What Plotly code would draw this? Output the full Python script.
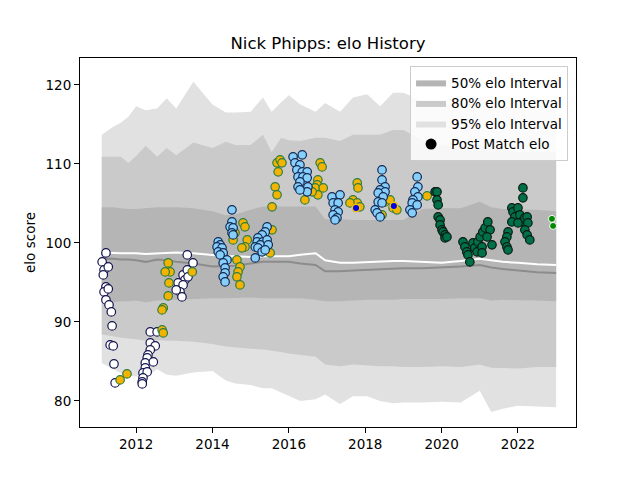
import plotly.graph_objects as go

# ---- dados (anos decimais / pontos elo) ----
band_years = [2011.10, 2011.40, 2011.60, 2011.80, 2012.00, 2012.25, 2012.55, 2012.80, 2013.05,
              2013.50, 2014.00, 2014.35, 2014.60, 2015.00, 2015.32, 2015.55, 2015.80, 2016.00,
              2016.30, 2016.70, 2016.95, 2017.34, 2017.68, 2018.05, 2018.39, 2018.73, 2019.00,
              2019.50, 2020.00, 2020.50, 2021.00, 2021.30, 2021.60, 2022.00, 2022.50, 2023.00]
hi95 = [113.7, 114.7, 115.2, 116.0, 117.3, 116.8, 117.0, 118.3, 117.0,
        120.4, 117.5, 116.5, 116.5, 116.6, 118.4, 116.6, 117.8, 118.7,
        117.5, 116.6, 117.7, 116.6, 118.4, 118.8, 117.3, 119.0, 119.0,
        118.0, 117.5, 117.5, 118.5, 117.8, 117.5, 117.0, 117.5, 117.2]
hi80 = [110.9, 110.9, 110.9, 110.1, 111.0, 112.3, 110.9, 112.0, 111.1,
        112.7, 112.0, 112.8, 112.4, 112.4, 113.7, 111.5, 113.3, 113.0,
        112.9, 113.3, 113.3, 112.9, 113.7, 113.7, 113.7, 114.3, 114.3,
        113.0, 112.5, 112.0, 112.5, 112.0, 111.8, 111.5, 111.5, 111.5]
hi50 = [104.5, 104.5, 104.4, 104.3, 104.3, 104.4, 104.5, 104.5, 104.5,
        104.4, 104.0, 103.5, 103.6, 104.2, 104.6, 104.6, 104.6, 104.6,
        104.6, 104.6, 103.0, 103.0, 102.9, 102.9, 102.9, 102.9, 102.9,
        104.3, 104.4, 104.4, 105.2, 104.5, 104.3, 104.2, 104.2, 104.0]
lo50 = [92.5, 92.5, 92.6, 92.6, 92.7, 92.5, 92.7, 92.8, 92.8,
        92.9, 93.0, 93.0, 93.0, 93.1, 93.0, 93.0, 93.0, 93.0,
        93.0, 92.8, 92.6, 92.6, 92.7, 92.8, 92.8, 92.8, 92.9,
        92.9, 92.9, 93.0, 93.0, 92.7, 92.8, 92.8, 92.7, 92.6]
lo80 = [88.4, 88.2, 88.0, 87.9, 87.8, 87.6, 87.7, 87.6, 87.6,
        87.5, 87.2, 86.9, 86.8, 86.6, 86.5, 86.4, 86.2, 86.0,
        85.8, 85.6, 84.6, 84.4, 84.6, 84.5, 84.4, 84.4, 84.3,
        84.3, 84.4, 84.3, 84.6, 84.2, 84.2, 84.1, 84.3, 84.3]
lo95 = [84.8, 84.0, 83.5, 83.2, 83.1, 83.0, 84.0, 83.3, 83.2,
        83.6, 83.8, 82.6, 82.2, 82.0, 81.6, 81.6, 81.0, 80.6,
        80.0, 80.2, 80.8, 79.6, 80.6, 80.6, 80.0, 79.7, 79.8,
        79.8, 79.9, 79.8, 81.3, 78.6, 79.0, 79.4, 79.3, 79.2]
median_elo = [98.0, 98.0, 97.9, 97.9, 97.8, 97.6, 97.9, 97.8, 97.6,
              97.4, 97.0, 97.1, 97.1, 97.4, 97.6, 97.6, 97.6, 97.6,
              97.4, 97.2, 96.4, 96.4, 96.5, 96.6, 96.7, 96.7, 96.8,
              96.8, 96.9, 97.0, 97.2, 96.9, 96.7, 96.5, 96.3, 96.2]
white_line = [98.8, 98.7, 98.7, 98.7, 98.7, 98.6, 98.7, 98.8, 98.8,
              98.7, 98.5, 98.3, 98.3, 98.2, 98.3, 98.3, 98.3, 98.3,
              98.5, 98.7, 97.8, 97.5, 97.5, 97.6, 97.6, 97.7, 97.7,
              97.6, 97.5, 97.7, 98.0, 97.8, 97.6, 97.5, 97.3, 97.2]

white_years = [2011.21, 2011.11, 2011.16, 2011.27, 2011.14, 2011.21, 2011.16, 2011.27, 2011.21,
               2011.29, 2011.35, 2011.37, 2011.32, 2011.40, 2011.42, 2011.45,
               2012.37, 2012.55, 2012.37, 2012.50, 2012.37, 2012.31, 2012.29, 2012.24, 2012.45,
               2012.24, 2012.18, 2012.29, 2012.18, 2012.16, 2012.16,
               2013.34, 2013.49, 2013.41, 2013.23, 2013.28, 2013.10, 2013.23, 2013.15, 2013.20,
               2013.34, 2013.36, 2013.05]
white_elo = [98.73, 97.59, 96.58, 96.96, 95.95, 94.43, 93.80, 94.18, 92.78,
             92.15, 91.27, 89.49, 87.09, 86.96, 84.68, 82.28,
             88.73, 88.73, 87.34, 86.96, 86.46, 85.82, 85.44, 84.81, 84.94,
             84.18, 83.54, 83.67, 82.91, 82.41, 82.15,
             98.48, 97.47, 96.33, 95.95, 95.32, 94.94, 94.68, 93.80, 93.16,
             96.58, 95.70, 94.05]

gold_years = [2011.58, 2011.76,
              2012.68, 2012.71, 2012.71, 2012.68, 2012.84, 2012.86, 2012.89, 2012.76, 2012.84, 2013.47,
              2014.80, 2014.85, 2014.59, 2014.54, 2014.91, 2014.85, 2014.77, 2014.64, 2014.72, 2014.67,
              2014.64, 2014.72, 2015.51, 2015.56, 2015.56, 2015.64, 2015.69, 2015.69, 2015.77, 2015.72,
              2015.82,
              2016.82, 2016.87, 2016.76, 2016.74, 2016.69, 2016.90, 2016.76, 2016.61, 2016.42,
              2017.79, 2017.81, 2017.68, 2017.79, 2017.60, 2017.86,
              2018.52, 2018.65, 2018.73, 2018.83, 2018.44, 2019.62]
gold_elo = [82.66, 83.42,
            88.99, 88.61, 91.77, 91.52, 93.29, 94.94, 96.33, 96.33, 97.47, 96.33,
            102.53, 102.03, 101.27, 100.38, 100.38, 99.49, 99.37, 97.85, 96.96, 96.33,
            95.70, 94.68, 98.73, 101.65, 104.56, 107.09, 106.08, 110.13, 110.51, 108.99,
            110.13,
            110.13, 109.62, 107.97, 107.34, 106.96, 106.96, 106.08, 106.46, 105.44,
            107.59, 106.96, 105.44, 105.06, 105.06, 104.56,
            105.19, 105.44, 104.43, 104.18, 103.54, 105.95]

sky_years = [2014.51, 2014.51, 2014.46, 2014.54, 2014.51, 2014.54, 2014.15, 2014.20, 2014.12,
             2014.25, 2014.15, 2014.28, 2014.20, 2014.38, 2014.28, 2014.33, 2014.33, 2014.28,
             2014.33, 2015.12, 2015.43, 2015.38, 2015.30, 2015.19, 2015.17, 2015.32, 2015.43,
             2015.25, 2015.46, 2015.12, 2015.19, 2015.30, 2015.38,
             2016.11, 2016.35, 2016.16, 2016.29, 2016.21, 2016.35, 2016.48, 2016.24, 2016.37,
             2016.48, 2016.29, 2016.24, 2016.50, 2016.48, 2016.29,
             2017.13, 2017.34, 2017.16, 2017.29, 2017.21, 2017.29, 2017.16, 2017.26, 2017.21,
             2018.44, 2018.44, 2018.52, 2018.39, 2018.52, 2018.34, 2018.47, 2018.34, 2018.44,
             2018.26, 2018.31, 2018.39,
             2019.36, 2019.38, 2019.30, 2019.38, 2019.25, 2019.23, 2019.36, 2019.17, 2019.23]
sky_elo = [104.18, 102.66, 102.03, 101.90, 101.27, 101.01, 100.13, 99.75, 99.49,
           99.37, 98.86, 98.73, 98.48, 97.85, 97.47, 96.84, 96.20, 95.70,
           95.06, 98.10, 102.03, 101.39, 101.01, 100.63, 100.13, 100.13, 100.38,
           99.75, 99.75, 99.49, 99.37, 98.86, 99.11,
           110.89, 111.14, 110.13, 109.87, 109.24, 108.99, 108.99, 108.35, 108.35,
           108.23, 107.72, 107.09, 107.09, 106.46, 106.71,
           105.82, 106.08, 105.06, 105.06, 104.18, 103.92, 103.54, 103.16, 102.91,
           109.24, 107.97, 107.09, 106.71, 106.46, 106.33, 105.82, 105.19, 105.06,
           104.18, 103.80, 103.29,
           108.35, 107.09, 106.46, 105.82, 105.44, 105.06, 104.81, 104.18, 103.80]

blue_years = [2017.76, 2018.75]
blue_elo = [104.43, 104.68]

green_years = [2019.83, 2019.88, 2019.88, 2019.91, 2019.91, 2019.96, 2019.96, 2020.01, 2020.04,
               2020.09, 2020.09, 2020.14, 2020.56, 2020.61, 2020.66, 2020.69, 2020.74, 2020.82,
               2020.87, 2020.93, 2020.95, 2021.06, 2021.06, 2021.01, 2021.08, 2021.14, 2021.21,
               2021.27, 2021.19, 2021.32, 2021.74, 2021.71, 2021.66, 2021.71, 2021.74, 2021.84,
               2021.87, 2021.92, 2021.84, 2022.00, 2022.05, 2022.10, 2022.00, 2022.18, 2022.24,
               2022.26, 2022.18, 2022.24, 2022.31, 2022.13, 2022.13]
green_elo = [106.46, 106.46, 105.44, 104.81, 103.29, 102.91, 102.28, 101.65, 101.39,
             101.01, 100.63, 100.76, 100.13, 99.49, 98.86, 98.48, 97.59, 100.00,
             99.37, 98.86, 100.13, 99.49, 98.73, 100.76, 101.39, 101.90, 102.66,
             101.65, 100.76, 99.75, 101.39, 100.76, 100.13, 99.49, 99.11, 104.43,
             103.92, 103.29, 102.66, 104.43, 103.54, 102.66, 102.53, 103.16, 103.29,
             102.53, 101.65, 101.01, 100.38, 106.96, 105.70]

lime_years = [2022.89, 2022.92]
lime_elo = [103.04, 102.15]

ticks_x = [2012, 2014, 2016, 2018, 2020, 2022]
ticks_y = [80, 90, 100, 110, 120]

fonte = "DejaVu Sans"
fig = go.Figure()


def faixa(lo, hi, cor, nome, rank):
    # polígono fechado: borda superior e depois a inferior de volta
    xs = band_years + band_years[::-1]
    ys = hi + lo[::-1]
    fig.add_trace(go.Scatter(x=xs, y=ys, mode="lines", line=dict(width=0), fill="toself",
                             fillcolor=cor, name=nome, legendrank=rank, hoverinfo="skip"))


faixa(lo95, hi95, "#e1e1e1", "95% elo Interval", 3)
faixa(lo80, hi80, "#cacaca", "80% elo Interval", 2)
faixa(lo50, hi50, "#b5b5b5", "50% elo Interval", 1)

fig.add_trace(go.Scatter(x=band_years, y=median_elo, mode="lines",
                         line=dict(color="#8c8c8c", width=2), showlegend=False))
fig.add_trace(go.Scatter(x=band_years, y=white_line, mode="lines",
                         line=dict(color="white", width=2), showlegend=False))


def pontos(xs, ys, cor, borda, tam=8.5, lw=1.2):
    fig.add_trace(go.Scatter(x=xs, y=ys, mode="markers", showlegend=False,
                             marker=dict(size=tam, color=cor, line=dict(color=borda, width=lw))))


pontos(white_years, white_elo, "white", "#141450")
pontos(gold_years, gold_elo, "#f2b400", "#2e7d40")
pontos(sky_years, sky_elo, "#87cefa", "#102a55")
pontos(blue_years, blue_elo, "#0000ee", "#f2c200", 7.5, 1.5)
pontos(green_years, green_elo, "#00704a", "#0a1a10")
pontos(lime_years, lime_elo, "#008a00", "white", 7, 1)

fig.add_trace(go.Scatter(x=[None], y=[None], mode="markers", name="Post Match elo",
                         marker=dict(size=11, color="black"), legendrank=4))

eixo = dict(showline=True, mirror=True, linecolor="black", linewidth=1, showgrid=False,
            zeroline=False, ticks="outside", ticklen=5, tickwidth=1, tickcolor="black",
            automargin=False, tickfont=dict(size=13.5, color="black", family=fonte))

# a página tem margem de 8px no body, então a figura é 16px menor
fig.update_layout(
    width=624, height=464,
    margin=dict(l=72, r=56, t=50, b=45),
    plot_bgcolor="white", paper_bgcolor="white",
    font=dict(family=fonte, color="black"),
    title=dict(text="Nick Phipps: elo History", x=0.5, xref="paper", xanchor="center",
               y=1 - 35 / 464, yanchor="middle", font=dict(size=16.5, family=fonte)),
    xaxis=dict(eixo, range=[2010.53, 2023.52], tickvals=ticks_x,
               ticktext=[str(t) for t in ticks_x]),
    yaxis=dict(eixo, range=[76.7, 123.4], tickvals=ticks_y,
               title=dict(text="elo score", standoff=6, font=dict(size=13.5, family=fonte))),
    legend=dict(x=0.984, xanchor="right", y=0.978, yanchor="top", traceorder="normal",
                bgcolor="rgba(255,255,255,0.85)", bordercolor="#cccccc", borderwidth=1,
                font=dict(size=13.5, family=fonte), tracegroupgap=0, itemwidth=30),
    showlegend=True,
)

fig.write_html("out.html")
